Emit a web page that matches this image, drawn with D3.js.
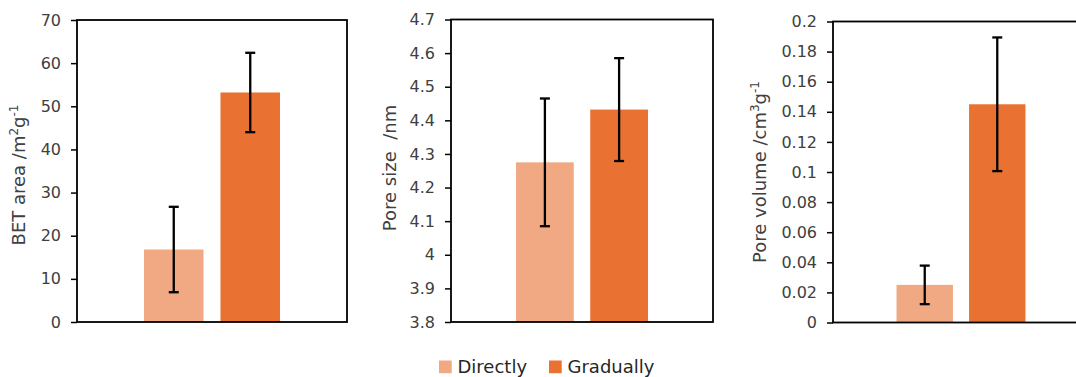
<!DOCTYPE html>
<html>
<head>
<meta charset="utf-8">
<script src="https://cdn.jsdelivr.net/npm/d3@7"></script>
<style>
  html, body { margin: 0; padding: 0; background: #fff; }
  svg { display: block; }
</style>
</head>
<body>
<svg id="chart" width="1076" height="377"></svg>
<script>
// ---- data ----
const categories = ["Directly", "Gradually"];
const colors = ["#F1A983", "#E97132"];

const betArea = [16.8, 53.2];
const betAreaErr = [9.9, 9.2];
const betTicks = [0, 10, 20, 30, 40, 50, 60, 70];
const betTickLabels = ["0", "10", "20", "30", "40", "50", "60", "70"];

const poreSize = [4.275, 4.432];
const poreSizeErr = [0.19, 0.153];
const poreSizeTicks = [3.8, 3.9, 4.0, 4.1, 4.2, 4.3, 4.4, 4.5, 4.6, 4.7];
const poreSizeTickLabels = ["3.8", "3.9", "4", "4.1", "4.2", "4.3", "4.4", "4.5", "4.6", "4.7"];

const poreVolume = [0.025, 0.145];
const poreVolumeErr = [0.0128, 0.0444];
const poreVolumeTicks = [0, 0.02, 0.04, 0.06, 0.08, 0.1, 0.12, 0.14, 0.16, 0.18, 0.2];
const poreVolumeTickLabels = ["0", "0.02", "0.04", "0.06", "0.08", "0.1", "0.12", "0.14", "0.16", "0.18", "0.2"];

// ---- layout ----
const svg = d3.select("#chart");
const FONT = "DejaVu Sans, Verdana, sans-serif";

const panels = [
  { values: betArea, errs: betAreaErr, ticks: betTicks, labels: betTickLabels,
    domain: [0, 70], left: 77, right: 347, top: 20, bottom: 322, titleX: 25, titleY: 175,
    title: [["BET area /m", 0], ["2", 1], ["g", 0], ["-1", 1]] },
  { values: poreSize, errs: poreSizeErr, ticks: poreSizeTicks, labels: poreSizeTickLabels,
    domain: [3.8, 4.7], left: 451, right: 713, top: 19.5, bottom: 322, titleX: 396, titleY: 168,
    title: [["Pore size\u00a0\u00a0/nm", 0]] },
  { values: poreVolume, errs: poreVolumeErr, ticks: poreVolumeTicks, labels: poreVolumeTickLabels,
    domain: [0, 0.2], left: 833, right: 1089, top: 21.5, bottom: 322.5, titleX: 766, titleY: 172,
    title: [["Pore volume /cm", 0], ["3", 1], ["g", 0], ["-1", 1]] }
];

panels.forEach(p => {
  const g = svg.append("g");
  const x = d3.scaleBand().domain(categories).range([p.left, p.right])
    .paddingInner(0.222).paddingOuter(0.876);
  const y = d3.scaleLinear().domain(p.domain).range([p.bottom, p.top]);

  // bars
  g.selectAll("rect.bar").data(categories).enter().append("rect")
    .attr("class", "bar")
    .attr("x", d => x(d))
    .attr("width", x.bandwidth())
    .attr("y", (d, i) => y(p.values[i]))
    .attr("height", (d, i) => y(p.domain[0]) - y(p.values[i]))
    .attr("fill", (d, i) => colors[i]);

  // error bars
  const cx = d => x(d) + x.bandwidth() / 2;
  const eb = g.selectAll("g.err").data(categories).enter().append("g").attr("class", "err")
    .attr("stroke", "#000").attr("stroke-width", 2.3);
  eb.append("line")
    .attr("x1", cx).attr("x2", cx)
    .attr("y1", (d, i) => y(p.values[i] + p.errs[i])).attr("y2", (d, i) => y(p.values[i] - p.errs[i]));
  eb.append("line")
    .attr("x1", d => cx(d) - 5).attr("x2", d => cx(d) + 5)
    .attr("y1", (d, i) => y(p.values[i] + p.errs[i])).attr("y2", (d, i) => y(p.values[i] + p.errs[i]));
  eb.append("line")
    .attr("x1", d => cx(d) - 5).attr("x2", d => cx(d) + 5)
    .attr("y1", (d, i) => y(p.values[i] - p.errs[i])).attr("y2", (d, i) => y(p.values[i] - p.errs[i]));

  // frame
  g.append("rect")
    .attr("x", p.left).attr("y", p.top)
    .attr("width", p.right - p.left).attr("height", p.bottom - p.top)
    .attr("fill", "none").attr("stroke", "#000").attr("stroke-width", 1.8);

  // y axis
  const axis = d3.axisLeft(y).tickValues(p.ticks)
    .tickFormat((d, i) => p.labels[i]).tickSizeOuter(0).tickSizeInner(6).tickPadding(10);
  const ag = g.append("g").attr("transform", `translate(${p.left},0)`).call(axis);
  ag.select(".domain").remove();
  ag.selectAll(".tick line").attr("stroke", "#000").attr("stroke-width", 1.5);
  ag.selectAll(".tick text").attr("fill", "#404040")
    .style("font-family", FONT).style("font-size", "16px");

  // y title
  const t = g.append("text")
    .attr("transform", `translate(${p.titleX},${p.titleY}) rotate(-90)`)
    .attr("text-anchor", "middle")
    .attr("fill", "#404040")
    .style("font-family", FONT).style("font-size", "18px");
  p.title.forEach(([s, sup], k) => {
    const ts = t.append("tspan").text(s);
    if (sup) ts.attr("dy", -7).style("font-size", "12px");
    else if (k > 0) ts.attr("dy", 7);
  });
});

// legend
const legendX = [439, 549];
const lg = svg.append("g");
categories.forEach((c, i) => {
  lg.append("rect").attr("x", legendX[i]).attr("y", 360.5)
    .attr("width", 12.7).attr("height", 12.7).attr("fill", colors[i]);
  lg.append("text").attr("x", legendX[i] + 18.5).attr("y", 373.3)
    .attr("fill", "#262626")
    .style("font-family", FONT).style("font-size", "18px")
    .text(c);
});
</script>
</body>
</html>
